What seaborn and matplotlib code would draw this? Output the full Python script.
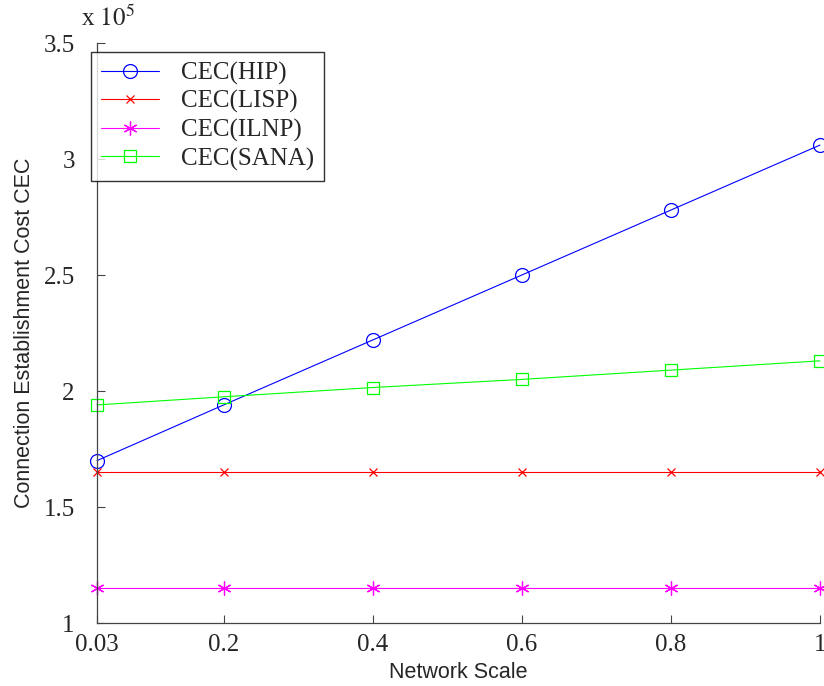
import pandas as pd
import matplotlib
matplotlib.use("Agg")
import matplotlib.pyplot as plt
import seaborn as sns

# valores (x 10^5)
network_scale = [0.03, 0.2, 0.4, 0.6, 0.8, 1.0]
cec_hip = [1.70, 1.94, 2.22, 2.50, 2.78, 3.06]
cec_lisp = [1.65, 1.65, 1.65, 1.65, 1.65, 1.65]
cec_ilnp = [1.15, 1.15, 1.15, 1.15, 1.15, 1.15]
cec_sana = [1.94, 1.975, 2.015, 2.05, 2.09, 2.13]
x_ticks = [0.03, 0.2, 0.4, 0.6, 0.8, 1]
x_tick_labels = ['0.03', '0.2', '0.4', '0.6', '0.8', '1']
y_ticks = [1, 1.5, 2, 2.5, 3, 3.5]
y_tick_labels = ['1', '1.5', '2', '2.5', '3', '3.5']

series = {'CEC(HIP)': cec_hip, 'CEC(LISP)': cec_lisp,
          'CEC(ILNP)': cec_ilnp, 'CEC(SANA)': cec_sana}
colores = {'CEC(HIP)': '#0000ff', 'CEC(LISP)': '#ff0000',
           'CEC(ILNP)': '#ff00ff', 'CEC(SANA)': '#00ff00'}
marcadores = {'CEC(HIP)': 'o', 'CEC(LISP)': 'x',
              'CEC(ILNP)': (6, 2, 0), 'CEC(SANA)': 's'}
tamanos = {'CEC(HIP)': 10, 'CEC(LISP)': 6, 'CEC(ILNP)': 10, 'CEC(SANA)': 8}

sns.set_style("ticks")
plt.rcParams['font.family'] = ['Liberation Serif', 'DejaVu Serif']
plt.rcParams['mathtext.fontset'] = 'stix'
plt.rcParams['xtick.direction'] = 'in'
plt.rcParams['ytick.direction'] = 'in'

fig = plt.figure(figsize=(8.24, 6.86), dpi=100)
ax = fig.add_axes([97/824, 1-623/686, (820-97)/824, (623-43)/686])

for nombre, valores in series.items():
    df = pd.DataFrame({'scale': network_scale, 'cec': valores})
    sns.lineplot(data=df, x='scale', y='cec', color=colores[nombre],
                 marker=marcadores[nombre], markersize=tamanos[nombre],
                 markerfacecolor='none', markeredgecolor=colores[nombre],
                 markeredgewidth=0.9, linewidth=0.8, label=nombre, ax=ax,
                 clip_on=False)

ax.set_xlim(0.03, 1)
ax.set_ylim(1, 3.5)
ax.set_xticks(x_ticks)
ax.set_xticklabels(x_tick_labels)
ax.set_yticks(y_ticks)
ax.set_yticklabels(y_tick_labels)
ax.tick_params(labelsize=18, length=6, width=0.8, color='#444444')
ax.tick_params(axis='x', pad=8)
ax.tick_params(axis='y', pad=16)
sns.despine(ax=ax)
for s in ['left', 'bottom']:
    ax.spines[s].set_color('#444444')
    ax.spines[s].set_linewidth(0.9)

ax.set_xlabel('Network Scale', family=['Liberation Sans'], fontsize=15.5, labelpad=4)
ax.set_ylabel('Connection Establishment Cost CEC', family=['Liberation Sans'], fontsize=15.5, labelpad=6)
ax.text(-0.022, 1.02, r'x $10^{5}$', transform=ax.transAxes, fontsize=18, va='bottom', ha='left')

leg = ax.legend(loc='upper left', fontsize=18,
                frameon=True, fancybox=False, edgecolor='black',
                bbox_to_anchor=(-0.008, 0.985), borderaxespad=0,
                handlelength=2.3, handletextpad=0.9, labelspacing=0.22,
                borderpad=0.4)
leg.get_frame().set_linewidth(1.0)

plt.savefig('out.png', dpi=100)
